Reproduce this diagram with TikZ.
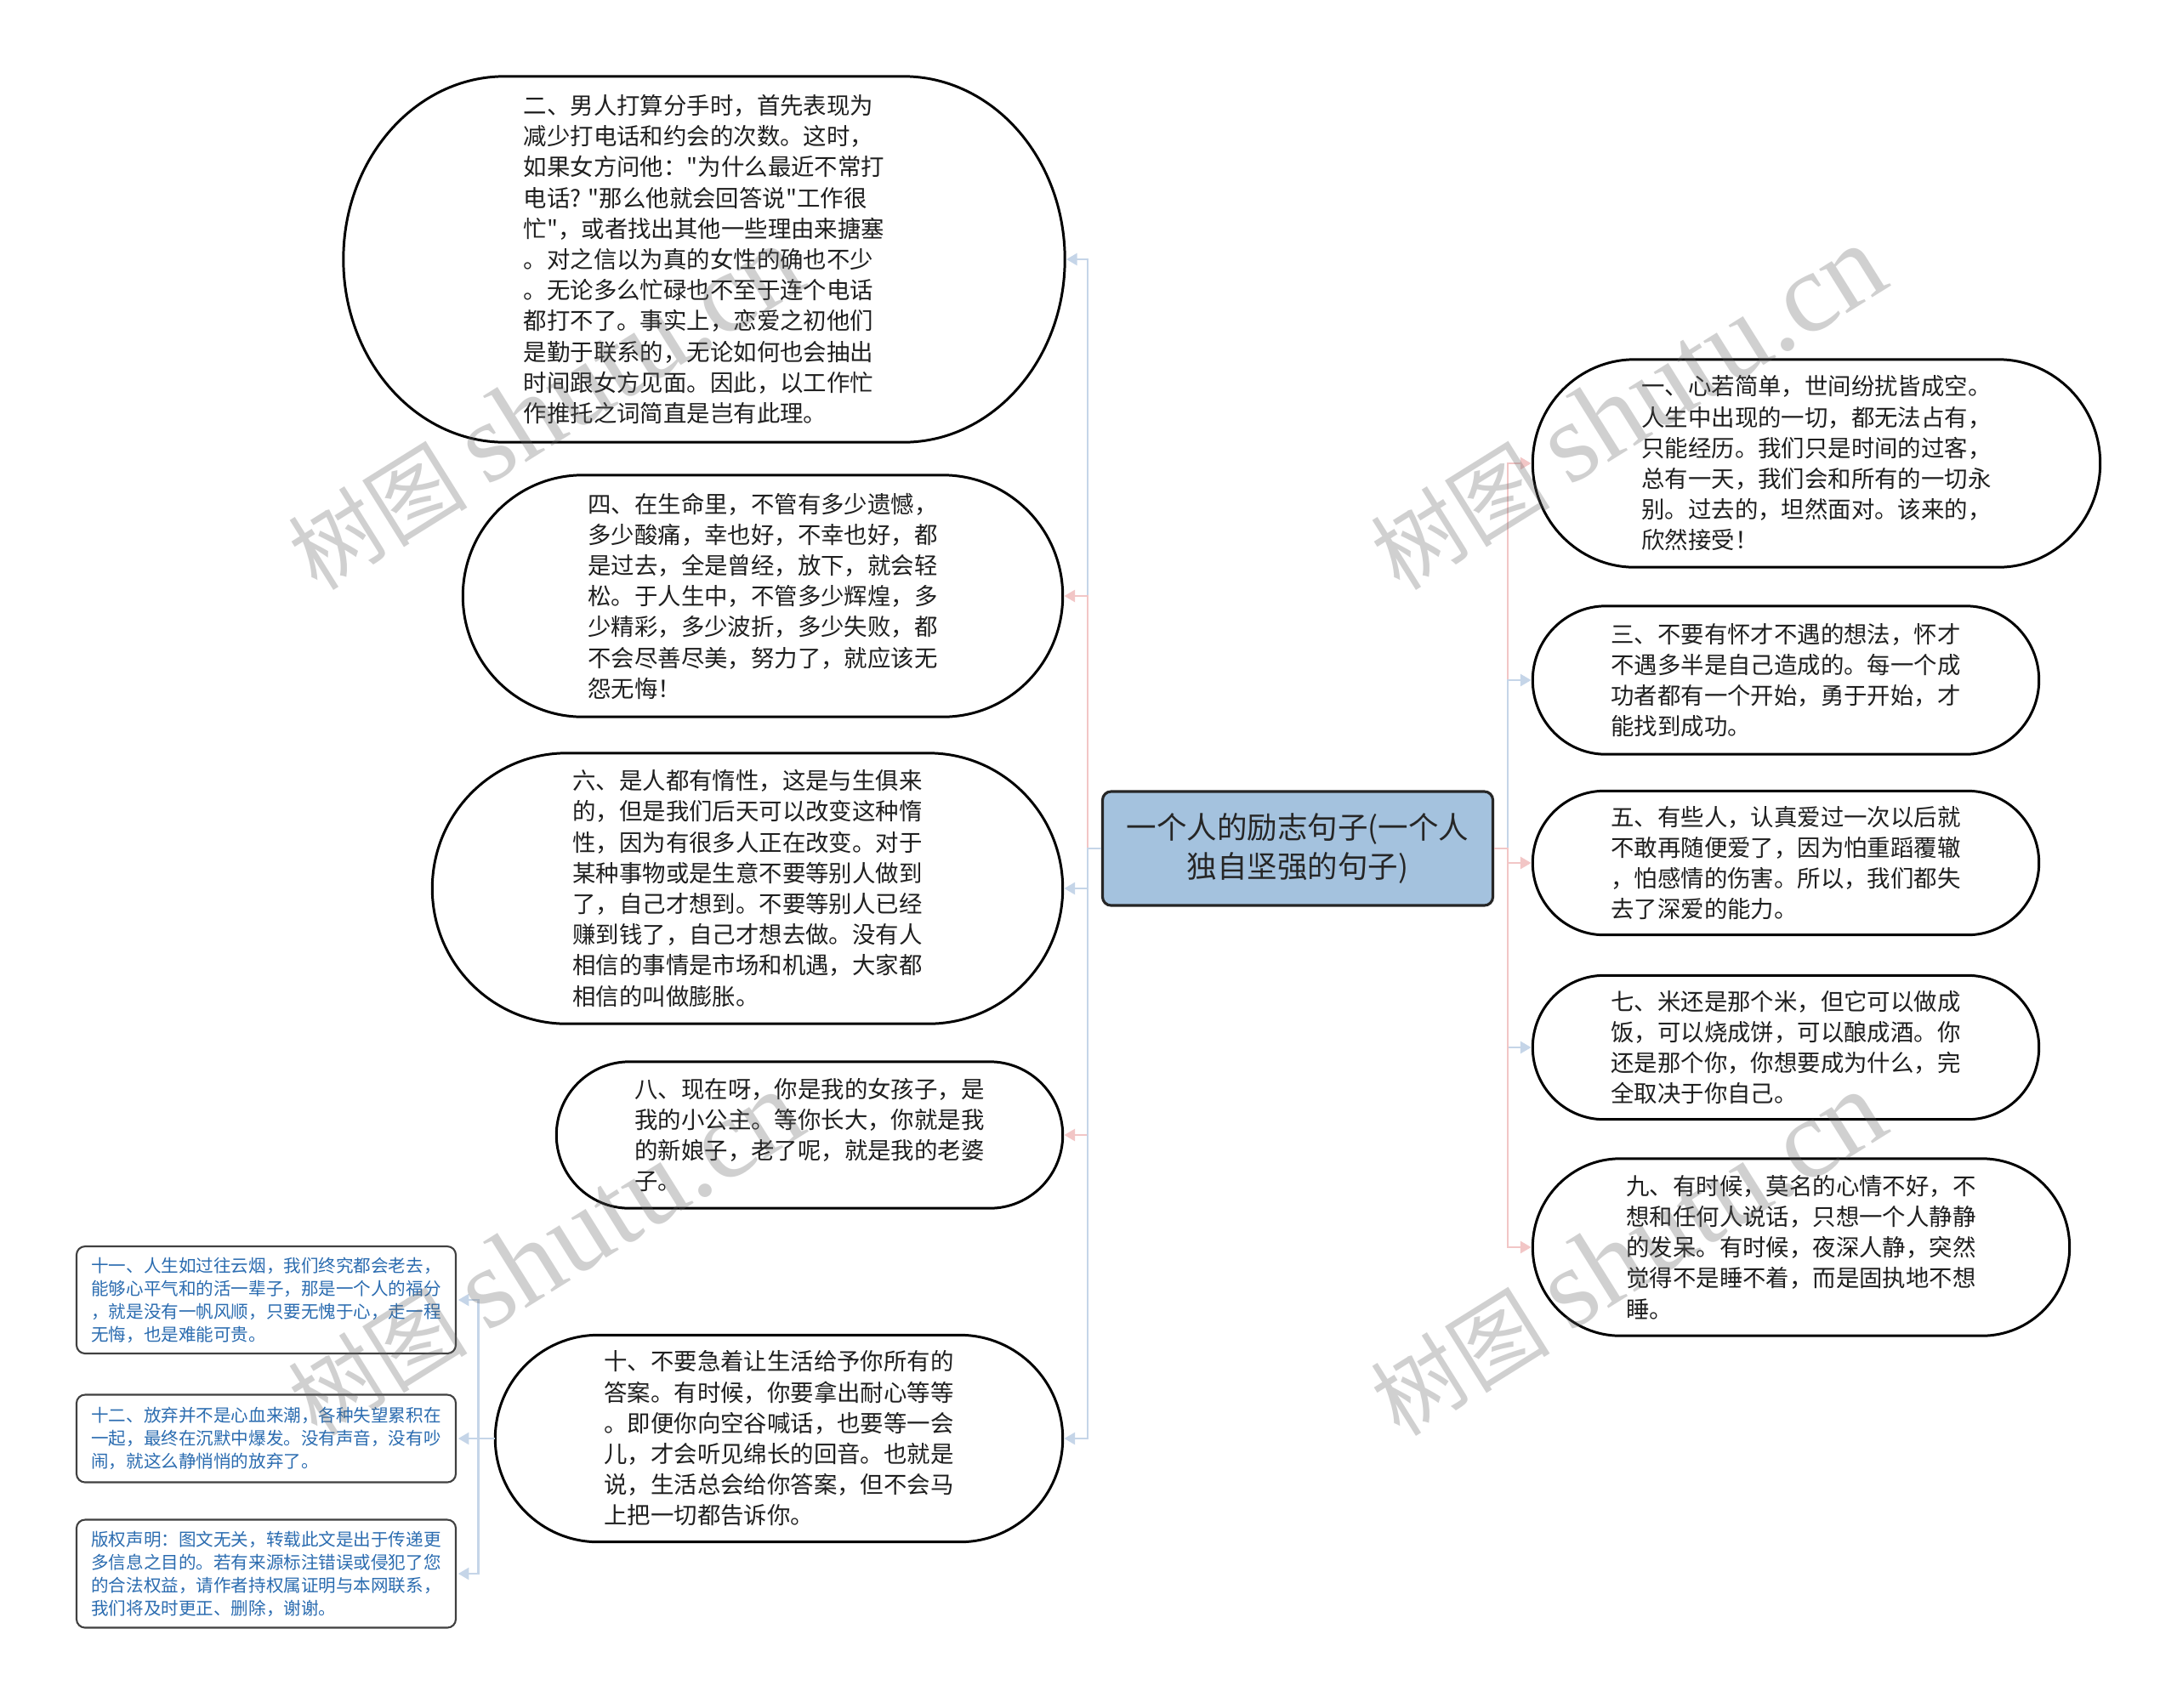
\documentclass[tikz,border=0pt]{standalone}
\usepackage{fontspec}
\newfontfamily\cjk{Noto Sans CJK SC}
\newfontfamily\wmfont{Liberation Serif}
\usetikzlibrary{arrows.meta,calc,positioning}

\definecolor{rootfill}{HTML}{A4C2DE}
\definecolor{linkblue}{HTML}{C5D5E8}
\definecolor{linkpink}{HTML}{F2C6C6}
\definecolor{notetext}{HTML}{2B6CB0}

\tikzset{
  leaf/.style={align=left, inner sep=0pt, text=black!88,
    font=\cjk\fontsize{7.8}{10.3}\selectfont},
  pill/.style={draw=black, line width=0.85pt},
  root/.style={draw=black!85, line width=0.9pt, rounded corners=0.1cm,
    fill=rootfill, align=center, inner sep=0pt, text=black!85,
    font=\cjk\fontsize{10.1}{13}\selectfont},
  note/.style={draw=black!75, line width=0.6pt, rounded corners=0.1cm,
    align=left, inner sep=0pt, text=notetext,
    font=\cjk\fontsize{5.85}{7.7}\selectfont},
  bluelink/.style={draw=linkblue, line width=0.7pt, shorten >=0.5pt,
    -{Triangle[length=3.6pt,width=4pt]}},
  pinklink/.style={draw=linkpink, line width=0.7pt, shorten >=0.5pt,
    -{Triangle[length=3.6pt,width=4pt]}},
  wmark/.style={text=black!60, opacity=0.3, inner sep=0pt,
    font=\cjk\fontsize{30}{30}\selectfont},
}

\begin{document}
\begin{tikzpicture}
    \fill[white] (0,0) rectangle (25.6,-20.08);
    \useasboundingbox (0,0) rectangle (25.6,-20.08);

    % centre
    \node[root, minimum width=4.59cm, minimum height=1.34cm] (root) at (15.26,-9.98)
        {一个人的励志句子(一个人\\独自坚强的句子)};

    % left side
    \node[leaf, minimum width=8.47cm, minimum height=4.29cm] (n2) at (8.28,-3.05)
        {二、男人打算分手时，首先表现为\\减少打电话和约会的次数。这时，\\如果女方问他："为什么最近不常打\\电话? "那么他就会回答说"工作很\\忙"，或者找出其他一些理由来搪塞\\。对之信以为真的女性的确也不少\\。无论多么忙碌也不至于连个电话\\都打不了。事实上，恋爱之初他们\\是勤于联系的，无论如何也会抽出\\时间跟女方见面。因此，以工作忙\\作推托之词简直是岂有此理。};
    \node[leaf, minimum width=7.04cm, minimum height=2.83cm] (n4) at (8.97,-7.01)
        {四、在生命里，不管有多少遗憾，\\多少酸痛，幸也好，不幸也好，都\\是过去，全是曾经，放下，就会轻\\松。于人生中，不管多少辉煌，多\\少精彩，多少波折，多少失败，都\\不会尽善尽美，努力了，就应该无\\怨无悔！};
    \node[leaf, minimum width=7.40cm, minimum height=3.17cm] (n6) at (8.79,-10.45)
        {六、是人都有惰性，这是与生俱来\\的，但是我们后天可以改变这种惰\\性，因为有很多人正在改变。对于\\某种事物或是生意不要等别人做到\\了，自己才想到。不要等别人已经\\赚到钱了，自己才想去做。没有人\\相信的事情是市场和机遇，大家都\\相信的叫做膨胀。};
    \node[leaf, minimum width=5.94cm, minimum height=1.71cm] (n8) at (9.52,-13.35)
        {八、现在呀，你是我的女孩子，是\\我的小公主。等你长大，你就是我\\的新娘子，老了呢，就是我的老婆\\子。};
    \node[leaf, minimum width=6.66cm, minimum height=2.42cm] (n10) at (9.16,-16.92)
        {十、不要急着让生活给予你所有的\\答案。有时候，你要拿出耐心等等\\。即便你向空谷喊话，也要等一会\\儿，才会听见绵长的回音。也就是\\说，生活总会给你答案，但不会马\\上把一切都告诉你。};

    % right side
    \node[leaf, minimum width=6.66cm, minimum height=2.43cm] (n1) at (21.36,-5.45)
        {一、心若简单，世间纷扰皆成空。\\人生中出现的一切，都无法占有，\\只能经历。我们只是时间的过客，\\总有一天，我们会和所有的一切永\\别。过去的，坦然面对。该来的，\\欣然接受！};
    \node[leaf, minimum width=5.94cm, minimum height=1.73cm] (n3) at (21.0,-8.0)
        {三、不要有怀才不遇的想法，怀才\\不遇多半是自己造成的。每一个成\\功者都有一个开始，勇于开始，才\\能找到成功。};
    \node[leaf, minimum width=5.94cm, minimum height=1.68cm] (n5) at (21.0,-10.15)
        {五、有些人，认真爱过一次以后就\\不敢再随便爱了，因为怕重蹈覆辙\\，怕感情的伤害。所以，我们都失\\去了深爱的能力。};
    \node[leaf, minimum width=5.94cm, minimum height=1.68cm] (n7) at (21.0,-12.32)
        {七、米还是那个米，但它可以做成\\饭，可以烧成饼，可以酿成酒。你\\还是那个你，你想要成为什么，完\\全取决于你自己。};
    \node[leaf, minimum width=6.30cm, minimum height=2.07cm] (n9) at (21.18,-14.67)
        {九、有时候，莫名的心情不好，不\\想和任何人说话，只想一个人静静\\的发呆。有时候，夜深人静，突然\\觉得不是睡不着，而是固执地不想\\睡。};

    % notes under 十
    \node[note, minimum width=4.46cm, minimum height=1.26cm] (s11) at (3.13,-15.29)
        {十一、人生如过往云烟，我们终究都会老去，\\能够心平气和的活一辈子，那是一个人的福分\\，就是没有一帆风顺，只要无愧于心，走一程\\无悔，也是难能可贵。};
    \node[note, minimum width=4.46cm, minimum height=1.03cm] (s12) at (3.13,-16.92)
        {十二、放弃并不是心血来潮，各种失望累积在\\一起，最终在沉默中爆发。没有声音，没有吵\\闹，就这么静悄悄的放弃了。};
    \node[note, minimum width=4.46cm, minimum height=1.27cm] (s13) at (3.13,-18.51)
        {版权声明：图文无关，转载此文是出于传递更\\多信息之目的。若有来源标注错误或侵犯了您\\的合法权益，请作者持权属证明与本网联系，\\我们将及时更正、删除，谢谢。};

    % outlines
    \foreach \nd/\rx in {n2/1.9,n4/1.41,n6/1.58,n8/0.86,n10/1.21,n1/1.2,n3/0.86,n5/0.84,n7/0.84,n9/1.03}
        \draw[pill] let \p1=(\nd.north), \p2=(\nd.south) in
            ($(\nd.north west)+(\rx,0)$) -- ($(\nd.north east)+(-\rx,0)$)
            arc[start angle=90, end angle=-90, x radius=\rx cm, y radius={((\y1)-(\y2))/2}]
            -- ($(\nd.south west)+(\rx,0)$)
            arc[start angle=270, end angle=90, x radius=\rx cm, y radius={((\y1)-(\y2))/2}] -- cycle;

    % connectors
    \coordinate (ltrunk) at ($(root.west)+(-0.16,0)$);
    \coordinate (rtrunk) at ($(root.east)+(0.16,0)$);
    \coordinate (strunk) at ($(n10.west)+(-0.2,0)$);
    \foreach \nd/\lk in {n2/bluelink,n4/pinklink,n6/bluelink,n8/pinklink,n10/bluelink}
        \draw[\lk] (root.west) -- (ltrunk) |- (\nd.east);
    \foreach \nd/\lk in {n1/pinklink,n3/bluelink,n5/pinklink,n7/bluelink,n9/pinklink}
        \draw[\lk] (root.east) -- (rtrunk) |- (\nd.west);
    \foreach \nd in {s11,s12,s13}
        \draw[bluelink] (n10.west) -- (strunk) |- (\nd.east);

    % watermarks
    \node[wmark, anchor=south west, rotate=32] (wm1) at (3.78,-7.05) {树图 {\wmfont\fontsize{38}{38}\selectfont shutu.cn}};
    \node[wmark, anchor=south west, rotate=32] (wm2) at (16.51,-7.05) {树图 {\wmfont\fontsize{38}{38}\selectfont shutu.cn}};
    \node[wmark, anchor=south west, rotate=32] (wm3) at (3.78,-17.0) {树图 {\wmfont\fontsize{38}{38}\selectfont shutu.cn}};
    \node[wmark, anchor=south west, rotate=32] (wm4) at (16.51,-17.0) {树图 {\wmfont\fontsize{38}{38}\selectfont shutu.cn}};
\end{tikzpicture}
\end{document}
